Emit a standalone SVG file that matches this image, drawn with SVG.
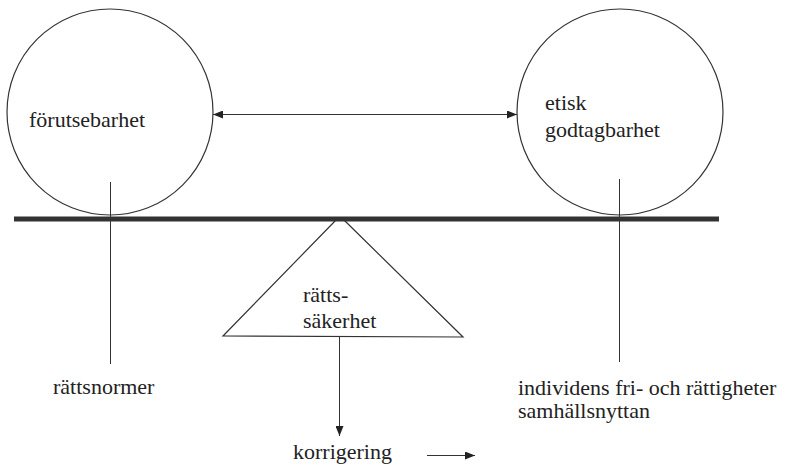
<svg xmlns="http://www.w3.org/2000/svg" width="793" height="465" viewBox="0 0 793 465">
<style>
.ln{stroke:#333;stroke-width:1;fill:none}
.c{stroke:#333;stroke-width:1.2;fill:none}
</style>
<defs>
<marker id="ah" viewBox="0 0 10 8" refX="10" refY="4" markerWidth="10" markerHeight="8" markerUnits="userSpaceOnUse" orient="auto-start-reverse">
<path d="M0,0 L10,4 L0,8 Z" fill="#222"/>
</marker>
</defs>
<rect width="793" height="465" fill="#fff"/>
<g id="beam"><rect x="14" y="216.5" width="705" height="5" fill="#333"/></g>
<g font-family="Liberation Serif, DejaVu Serif, serif" font-size="22" fill="#222">
<g id="forutsebarhet">
<circle class="c" cx="110" cy="112" r="103"/>
<text x="29" y="127">förutsebarhet</text>
</g>
<g id="etisk">
<circle class="c" cx="620" cy="112" r="103"/>
<text x="545" y="110">etisk</text>
<text x="545" y="137">godtagbarhet</text>
</g>
<g id="rattssakerhet">
<path class="c" d="M336,220 L223,336 L463,337 L344,220"/>
<text x="303" y="302">rätts-</text>
<text x="303" y="328">säkerhet</text>
</g>
<g id="rattsnormer"><text x="53" y="394">rättsnormer</text></g>
<g id="individens">
<text x="518" y="395">individens fri- och rättigheter</text>
<text x="518" y="418">samhällsnyttan</text>
</g>
<g id="korrigering"><text x="293" y="459">korrigering</text></g>
</g>
<g id="connectors">
<line class="ln" x1="213" y1="114.5" x2="517" y2="114.5" marker-start="url(#ah)" marker-end="url(#ah)"/>
<line class="ln" x1="110.5" y1="182" x2="110.5" y2="364"/>
<line class="ln" x1="619.5" y1="179" x2="619.5" y2="362"/>
<line class="ln" x1="339.5" y1="337" x2="339.5" y2="436" marker-end="url(#ah)"/>
<line class="ln" x1="427" y1="455.5" x2="475" y2="455.5" marker-end="url(#ah)"/>
</g>
</svg>
